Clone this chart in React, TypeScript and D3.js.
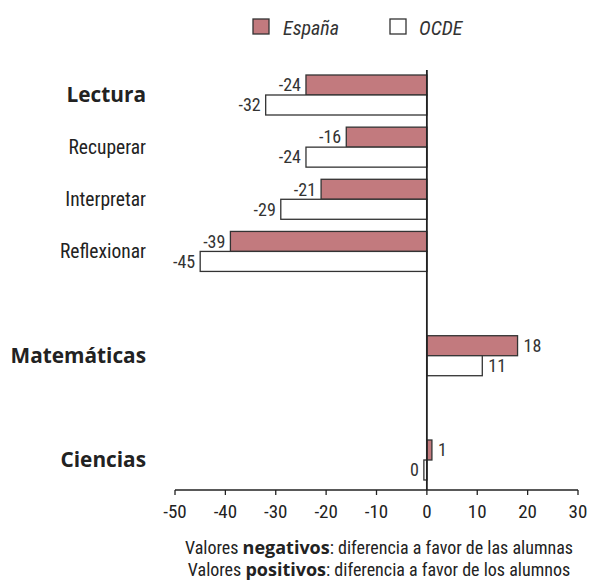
import React from "react";
import * as d3 from "d3";

const categories = ["Lectura", "Recuperar", "Interpretar", "Reflexionar", "Matemáticas", "Ciencias"];
const mainCategories = ["Lectura", "Matemáticas", "Ciencias"];
const slots = ["Lectura", "Recuperar", "Interpretar", "Reflexionar", "_gap1", "Matemáticas", "_gap2", "Ciencias"];
const espana = [-24, -16, -21, -39, 18, 1];
const ocde = [-32, -24, -29, -45, 11, 0];
const xTicks = [-50, -40, -30, -20, -10, 0, 10, 20, 30];
const seriesNames = ["España", "OCDE"];

const W = 591;
const H = 586;
const COND = "'Liberation Sans Narrow', 'Roboto Condensed', 'DejaVu Sans Condensed', 'Open Sans', sans-serif";
const BOLD = "'Open Sans', 'Noto Sans', sans-serif";
const ES_FILL = "#c27a7e";
const STROKE = "#333";

export default function App() {
  const x = d3.scaleLinear().domain([-50, 30]).range([175, 578]);
  const y = d3.scalePoint<string>().domain(slots).range([95, 460]);
  const barH = 20;
  const x0 = x(0);
  const axisY = 490;

  const bar = (v: number, top: number, fill: string, key: string) => {
    const xe = x(v);
    let left = Math.min(x0, xe);
    let w = Math.abs(xe - x0);
    if (w < 3) {
      w = 3;
      left = v > 0 ? x0 : x0 - 3;
    }
    const neg = v <= 0;
    return (
      <g key={key}>
        <rect x={left} y={top} width={w} height={barH} fill={fill} stroke={STROKE} strokeWidth={1.3} />
        <text
          x={neg ? left - 5 : left + w + 6}
          y={top + barH / 2}
          dy="0.35em"
          textAnchor={neg ? "end" : "start"}
          fontFamily={COND}
          fontSize={18}
          fill="#333"
        >
          {v}
        </text>
      </g>
    );
  };

  return (
    <svg width={W} height={H} style={{ position: "absolute", left: 0, top: 0, background: "#fff" }}>
      {/* legend */}
      <g>
        <rect x={253} y={19} width={16} height={15} fill={ES_FILL} stroke={STROKE} strokeWidth={1.3} />
        <text x={283} y={35} fontFamily={COND} fontStyle="italic" fontSize={20} fill="#333">{seriesNames[0]}</text>
        <rect x={390} y={19} width={16} height={15} fill="#fff" stroke={STROKE} strokeWidth={1.3} />
        <text x={419} y={35} fontFamily={COND} fontStyle="italic" fontSize={20} fill="#333">{seriesNames[1]}</text>
      </g>

      {/* bars */}
      {categories.map((c, i) => {
        const cy = y(c) as number;
        const main = mainCategories.includes(c);
        return (
          <g key={c}>
            {bar(espana[i], cy - barH, ES_FILL, c + "-es")}
            {bar(ocde[i], cy, "#fff", c + "-oc")}
            <text
              x={146}
              y={cy}
              dy="0.35em"
              textAnchor="end"
              fontFamily={main ? BOLD : COND}
              fontWeight={main ? 700 : 400}
              fontSize={main ? 20.8 : 19.5}
              fill="#222"
            >
              {c}
            </text>
          </g>
        );
      })}

      {/* zero line */}
      <line x1={x0} x2={x0} y1={70} y2={axisY} stroke="#222" strokeWidth={1.8} />

      {/* x axis */}
      <line x1={x(-50)} x2={x(30)} y1={axisY} y2={axisY} stroke="#222" strokeWidth={1.5} />
      {xTicks.map((t) => (
        <g key={t}>
          <line x1={x(t)} x2={x(t)} y1={axisY} y2={axisY + 5} stroke="#222" strokeWidth={1.3} />
          <text x={x(t)} y={518} textAnchor="middle" fontFamily={COND} fontSize={19} fill="#222">
            {t}
          </text>
        </g>
      ))}

      {/* footer */}
      <text x={379} y={554} textAnchor="middle" fontFamily={COND} fontSize={18} fill="#222">
        <tspan>Valores </tspan>
        <tspan fontFamily={BOLD} fontWeight={700}>negativos</tspan>
        <tspan>: diferencia a favor de las alumnas</tspan>
      </text>
      <text x={379} y={576} textAnchor="middle" fontFamily={COND} fontSize={18} fill="#222">
        <tspan>Valores </tspan>
        <tspan fontFamily={BOLD} fontWeight={700}>positivos</tspan>
        <tspan>: diferencia a favor de los alumnos</tspan>
      </text>
    </svg>
  );
}
